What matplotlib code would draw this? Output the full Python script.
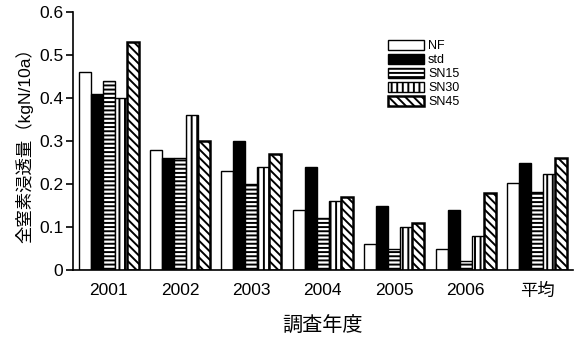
import matplotlib
matplotlib.use("Agg")
import matplotlib.pyplot as plt
import numpy as np

plt.rcParams['font.family'] = ['Liberation Sans', 'Noto Sans CJK JP', 'DejaVu Sans']
plt.rcParams['hatch.linewidth'] = 1.4

categories = ['2001', '2002', '2003', '2004', '2005', '2006', '平均']
series_names = ['NF', 'std', 'SN15', 'SN30', 'SN45']
nf   = [0.46, 0.28, 0.23, 0.14, 0.06, 0.05, 0.203]
std  = [0.41, 0.26, 0.30, 0.24, 0.15, 0.14, 0.25]
sn15 = [0.44, 0.26, 0.20, 0.12, 0.05, 0.02, 0.182]
sn30 = [0.40, 0.36, 0.24, 0.16, 0.10, 0.08, 0.223]
sn45 = [0.53, 0.30, 0.27, 0.17, 0.11, 0.18, 0.26]
yticks = [0, 0.1, 0.2, 0.3, 0.4, 0.5, 0.6]
ytick_labels = ['0', '0.1', '0.2', '0.3', '0.4', '0.5', '0.6']

series = [nf, std, sn15, sn30, sn45]
styles = [
    dict(facecolor='white', hatch=None, lw=1.0),
    dict(facecolor='black', hatch=None, lw=1.0),
    dict(facecolor='white', hatch='----', lw=1.0),
    dict(facecolor='white', hatch='|||', lw=1.0),
    dict(facecolor='white', hatch='\\\\\\\\', lw=1.8),
]

fig = plt.figure(figsize=(5.74, 3.38), dpi=100)
ax = fig.add_axes([0.127, 0.201, 0.871, 0.763])

x = np.arange(len(categories))
width = 0.168
for i, (vals, st) in enumerate(zip(series, styles)):
    ax.bar(x + (i - 2) * width, vals, width, facecolor=st['facecolor'],
           edgecolor='black', hatch=st['hatch'], linewidth=st['lw'],
           label=series_names[i])

ax.set_xlim(-0.5, len(categories) - 0.5)
ax.set_ylim(0, 0.6)
ax.set_yticks(yticks)
ax.set_yticklabels(ytick_labels, fontsize=12.5)
ax.set_xticks(x)
ax.set_xticklabels(categories, fontsize=12.5)
ax.tick_params(axis='x', length=0, pad=9)
ax.tick_params(axis='y', length=5, width=1.2, direction='out', pad=2)
for s in ['top', 'right']:
    ax.spines[s].set_visible(False)
for s in ['left', 'bottom']:
    ax.spines[s].set_linewidth(1.2)

ax.set_xlabel('調査年度', fontsize=14.5, labelpad=12)
ax.set_ylabel('全窒素浸透量（kgN/10a）', fontsize=12.5, labelpad=4)

ax.legend(loc='upper left', bbox_to_anchor=(388 / 574, 1 - 40 / 338),
          bbox_transform=fig.transFigure, frameon=False, fontsize=9,
          handlelength=2.9, handleheight=0.8, labelspacing=0.15,
          handletextpad=0.3, borderpad=0, borderaxespad=0)

fig.savefig('out.png', dpi=100)
